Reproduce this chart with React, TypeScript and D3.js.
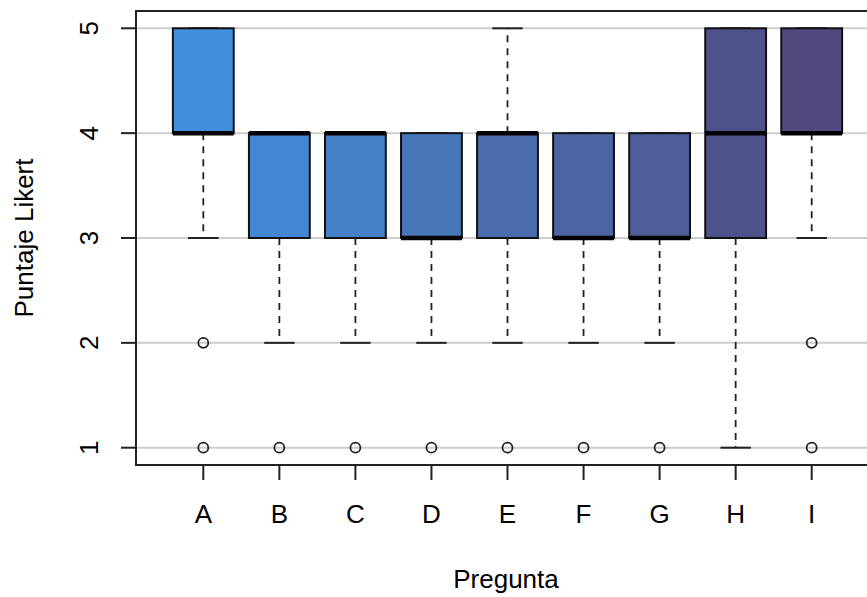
import React from 'react';
import * as d3 from 'd3';

// preguntas del cuestionario
const preguntas = ['A', 'B', 'C', 'D', 'E', 'F', 'G', 'H', 'I'];
// resumen de cada caja: bigote inferior, q1, mediana, q3, bigote superior
const lowWhisker = [3, 2, 2, 2, 2, 2, 2, 1, 3];
const q1 = [4, 3, 3, 3, 3, 3, 3, 3, 4];
const medians = [4, 4, 4, 3, 4, 3, 3, 4, 4];
const q3 = [5, 4, 4, 4, 4, 4, 4, 5, 5];
const highWhisker = [5, 4, 4, 4, 5, 4, 4, 5, 5];
const outliers = [[2, 1], [1], [1], [1], [1], [1], [1], [], [2, 1]];
const colors = ['#418fdd', '#4387d2', '#457fc6', '#4776b9', '#4a6dae', '#4c65a3', '#4e5c98', '#4f518a', '#52487d'];
const yTicks = [1, 2, 3, 4, 5];

const W = 867, H = 597;
const left = 136, right = 876, top = 11, bottom = 465;

export default function App() {
  const x = d3.scaleLinear().domain([1, 9]).range([203.3, 811.7]);
  const y = d3.scaleLinear().domain([1, 5]).range([447.7, 28.3]);
  const bw = (x(2) - x(1)) * 0.8;
  const font = 'Liberation Sans, Arial, sans-serif';
  const fs = 26;

  return (
    <svg width={W} height={H} style={{ position: 'absolute', left: 0, top: 0, background: '#fff' }}>
      {/* grid */}
      {yTicks.map(t => (
        <line key={'g' + t} x1={left} x2={W} y1={y(t)} y2={y(t)} stroke="#cdcdcd" strokeWidth={2} />
      ))}
      {preguntas.map((p, i) => {
        const cx = x(i + 1);
        return (
          <g key={p}>
            <line x1={cx} x2={cx} y1={y(q1[i])} y2={y(lowWhisker[i])} stroke="#222" strokeWidth={1.8} strokeDasharray="7,6" />
            <line x1={cx} x2={cx} y1={y(q3[i])} y2={y(highWhisker[i])} stroke="#222" strokeWidth={1.8} strokeDasharray="7,6" />
            <line x1={cx - bw / 4} x2={cx + bw / 4} y1={y(lowWhisker[i])} y2={y(lowWhisker[i])} stroke="#222" strokeWidth={2} />
            <line x1={cx - bw / 4} x2={cx + bw / 4} y1={y(highWhisker[i])} y2={y(highWhisker[i])} stroke="#222" strokeWidth={2} />
            <rect x={cx - bw / 2} width={bw} y={y(q3[i])} height={y(q1[i]) - y(q3[i])} fill={colors[i]} stroke="#111" strokeWidth={2} />
            <line x1={cx - bw / 2} x2={cx + bw / 2} y1={y(medians[i])} y2={y(medians[i])} stroke="#000" strokeWidth={4.5} />
            {outliers[i].map(o => (
              <circle key={o} cx={cx} cy={y(o)} r={5} fill="none" stroke="#222" strokeWidth={1.8} />
            ))}
          </g>
        );
      })}
      {/* plot frame */}
      <rect x={left} y={top} width={right - left} height={bottom - top} fill="none" stroke="#222" strokeWidth={2} />
      {/* y axis */}
      {yTicks.map(t => (
        <g key={'y' + t}>
          <line x1={left - 15} x2={left} y1={y(t)} y2={y(t)} stroke="#222" strokeWidth={2} />
          <text transform={`translate(98,${y(t)}) rotate(-90)`} textAnchor="middle" fontFamily={font} fontSize={fs} fill="#000">{t}</text>
        </g>
      ))}
      {/* x axis */}
      {preguntas.map((p, i) => (
        <g key={'x' + p}>
          <line x1={x(i + 1)} x2={x(i + 1)} y1={bottom} y2={bottom + 15} stroke="#222" strokeWidth={2} />
          <text x={x(i + 1)} y={523} textAnchor="middle" fontFamily={font} fontSize={fs} fill="#000">{p}</text>
        </g>
      ))}
      <text x={(left + right) / 2} y={588} textAnchor="middle" fontFamily={font} fontSize={fs} fill="#000">Pregunta</text>
      <text transform={`translate(33,${(top + bottom) / 2}) rotate(-90)`} textAnchor="middle" fontFamily={font} fontSize={fs} fill="#000">Puntaje Likert</text>
    </svg>
  );
}
